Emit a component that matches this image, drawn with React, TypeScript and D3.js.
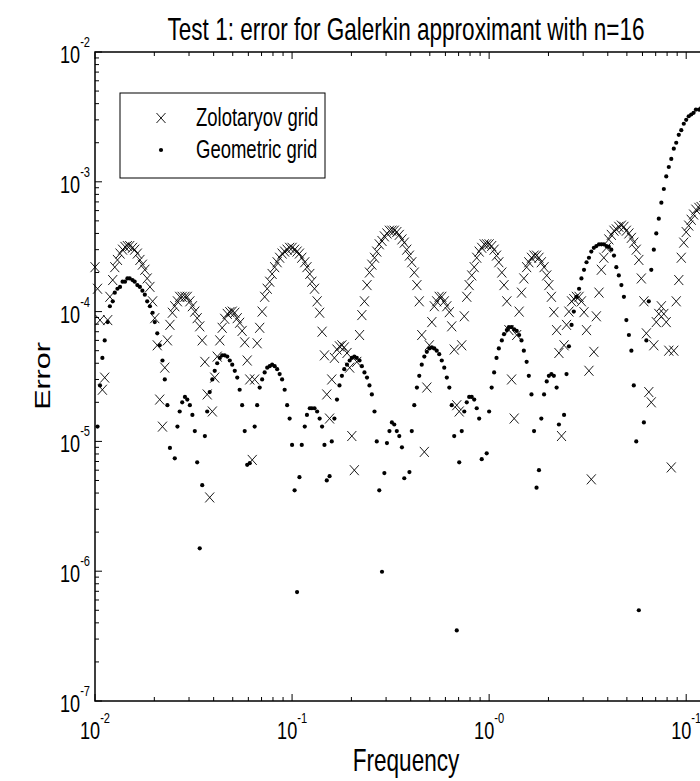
import React, { useEffect, useRef } from 'react';
import * as d3 from 'd3';

const chartTitle = 'Test 1: error for Galerkin approximant with n=16';
const xLabel = 'Frequency';
const yLabel = 'Error';
const seriesNames = ['Zolotaryov grid', 'Geometric grid'];
const xTickExponents = [-2, -1, 0, 1];
const yTickExponents = [-7, -6, -5, -4, -3, -2];

// sampling frequencies (~79 per decade)
const frequency = [
    0.0100, 0.0103, 0.0106, 0.0109, 0.0112, 0.0116, 0.0119, 0.0123, 0.0126, 0.0130,
    0.0134, 0.0138, 0.0142, 0.0146, 0.0150, 0.0155, 0.0159, 0.0164, 0.0169, 0.0174,
    0.0179, 0.0184, 0.0190, 0.0196, 0.0201, 0.0207, 0.0213, 0.0220, 0.0226, 0.0233,
    0.0240, 0.0247, 0.0254, 0.0262, 0.0269, 0.0277, 0.0286, 0.0294, 0.0303, 0.0312,
    0.0321, 0.0330, 0.0340, 0.0350, 0.0361, 0.0371, 0.0382, 0.0394, 0.0405, 0.0417,
    0.0430, 0.0442, 0.0455, 0.0469, 0.0483, 0.0497, 0.0512, 0.0527, 0.0542, 0.0558,
    0.0575, 0.0592, 0.0610, 0.0628, 0.0646, 0.0665, 0.0685, 0.0705, 0.0726, 0.0748,
    0.0770, 0.0792, 0.0816, 0.0840, 0.0865, 0.0890, 0.0917, 0.0944, 0.0972,
    0.100, 0.103, 0.106, 0.109, 0.112, 0.116, 0.119, 0.123, 0.126, 0.130,
    0.134, 0.138, 0.142, 0.146, 0.150, 0.155, 0.159, 0.164, 0.169, 0.174,
    0.179, 0.184, 0.190, 0.196, 0.201, 0.207, 0.213, 0.220, 0.226, 0.233,
    0.240, 0.247, 0.254, 0.262, 0.269, 0.277, 0.286, 0.294, 0.303, 0.312,
    0.321, 0.330, 0.340, 0.350, 0.361, 0.371, 0.382, 0.394, 0.405, 0.417,
    0.430, 0.442, 0.455, 0.469, 0.483, 0.497, 0.512, 0.527, 0.542, 0.558,
    0.575, 0.592, 0.610, 0.628, 0.646, 0.665, 0.685, 0.705, 0.726, 0.748,
    0.770, 0.792, 0.816, 0.840, 0.865, 0.890, 0.917, 0.944, 0.972,
    1.00, 1.03, 1.06, 1.09, 1.12, 1.16, 1.19, 1.23, 1.26, 1.30,
    1.34, 1.38, 1.42, 1.46, 1.50, 1.55, 1.59, 1.64, 1.69, 1.74,
    1.79, 1.84, 1.90, 1.96, 2.01, 2.07, 2.13, 2.20, 2.26, 2.33,
    2.40, 2.47, 2.54, 2.62, 2.69, 2.77, 2.86, 2.94, 3.03, 3.12,
    3.21, 3.30, 3.40, 3.50, 3.61, 3.71, 3.82, 3.94, 4.05, 4.17,
    4.30, 4.42, 4.55, 4.69, 4.83, 4.97, 5.12, 5.27, 5.42, 5.58,
    5.75, 5.92, 6.10, 6.28, 6.46, 6.65, 6.85, 7.05, 7.26, 7.48,
    7.70, 7.92, 8.16, 8.40, 8.65, 8.90, 9.17, 9.44, 9.72,
    10.0, 10.3, 10.6, 10.9, 11.2, 11.6, 11.9, 12.3, 12.6, 13.0, 13.4, 13.8
];

const zolotaryovError = [
    2.2e-4, 1.5e-4, 8.6e-5, 2.5e-5, 3.1e-5, 8.6e-5, 1.3e-4, 1.75e-4, 2.2e-4, 2.5e-4,
    2.8e-4, 3.0e-4, 3.15e-4, 3.2e-4, 3.2e-4, 3.1e-4, 3.0e-4, 2.8e-4, 2.5e-4, 2.3e-4,
    2.1e-4, 1.8e-4, 1.55e-4, 1.2e-4, 8.9e-5, 5.5e-5, 2.1e-5, 1.3e-5, 3.7e-5, 6.0e-5,
    7.9e-5, 9.8e-5, 1.1e-4, 1.2e-4, 1.3e-4, 1.3e-4, 1.3e-4, 1.3e-4, 1.2e-4, 1.1e-4,
    1.0e-4, 8.9e-5, 7.7e-5, 6.0e-5, 4.1e-5, 2.3e-5, 3.7e-6, 1.7e-5, 3.1e-5, 4.5e-5,
    6.0e-5, 7.5e-5, 8.8e-5, 9.6e-5, 9.9e-5, 1.0e-4, 9.8e-5, 8.9e-5, 8.2e-5, 7.1e-5,
    5.8e-5, 4.2e-5, 3.0e-5, 7.2e-6, 3.0e-5, 5.7e-5, 7.5e-5, 1.0e-4, 1.3e-4, 1.5e-4,
    1.7e-4, 1.95e-4, 2.2e-4, 2.4e-4, 2.6e-4, 2.8e-4, 2.9e-4, 3.0e-4, 3.1e-4, 3.1e-4,
    3.0e-4, 2.9e-4, 2.8e-4, 2.6e-4, 2.4e-4, 2.2e-4, 1.95e-4, 1.7e-4, 1.5e-4, 1.2e-4,
    9.8e-5, 7.0e-5, 4.6e-5, 2.3e-5, 1.5e-5, 3.0e-5, 4.4e-5, 5.1e-5, 5.4e-5, 5.5e-5,
    5.3e-5, 4.8e-5, 3.7e-5, 1.1e-5, 6.0e-6, 4.1e-5, 6.6e-5, 9.4e-5, 1.2e-4, 1.6e-4,
    2.0e-4, 2.3e-4, 2.6e-4, 2.9e-4, 3.3e-4, 3.5e-4, 3.8e-4, 4.0e-4, 4.2e-4, 4.2e-4,
    4.2e-4, 4.1e-4, 3.9e-4, 3.6e-4, 3.4e-4, 3.0e-4, 2.7e-4, 2.4e-4, 2.0e-4, 1.6e-4,
    1.2e-4, 6.6e-5, 8.3e-6, 2.6e-5, 5.5e-5, 8.3e-5, 1.1e-4, 1.2e-4, 1.3e-4, 1.3e-4,
    1.2e-4, 1.1e-4, 9.9e-5, 7.7e-5, 5.1e-5, 1.9e-5, 1.7e-5, 5.5e-5, 9.2e-5, 1.3e-4,
    1.6e-4, 1.9e-4, 2.2e-4, 2.6e-4, 2.9e-4, 3.1e-4, 3.3e-4, 3.3e-4, 3.3e-4, 3.2e-4,
    3.0e-4, 2.7e-4, 2.4e-4, 2.0e-4, 1.6e-4, 1.2e-4, 7.2e-5, 3.0e-5, 1.5e-5, 6.6e-5,
    1.0e-4, 1.4e-4, 1.8e-4, 2.2e-4, 2.4e-4, 2.6e-4, 2.7e-4, 2.7e-4, 2.6e-4, 2.4e-4,
    2.2e-4, 1.9e-4, 1.6e-4, 1.3e-4, 9.9e-5, 7.2e-5, 4.8e-5, 1.1e-5, 5.5e-5, 7.9e-5,
    1.0e-4, 1.2e-4, 1.25e-4, 1.3e-4, 1.3e-4, 1.2e-4, 9.9e-5, 7.2e-5, 3.5e-5, 5.1e-6,
    4.9e-5, 9.2e-5, 1.4e-4, 2.1e-4, 2.6e-4, 3.1e-4, 3.6e-4, 3.9e-4, 4.2e-4, 4.3e-4,
    4.5e-4, 4.6e-4, 4.5e-4, 4.2e-4, 4.0e-4, 3.7e-4, 3.4e-4, 3.0e-4, 2.5e-4, 1.8e-4,
    1.2e-4, 6.8e-5, 2.4e-5, 2.0e-5, 5.5e-5, 8.3e-5, 9.6e-5, 1.1e-4, 9.6e-5, 8.3e-5,
    5.0e-5, 6.3e-6, 5.0e-5, 1.2e-4, 1.75e-4, 2.6e-4, 3.4e-4, 4.1e-4, 4.6e-4, 5.1e-4,
    5.6e-4, 6.1e-4, 6.3e-4, 6.4e-4, 6.5e-4, 6.5e-4, 6.4e-4, 6.2e-4, 5.9e-4
];

// null = below the bottom of the axes
const geometricError: (number | null)[] = [
    null, 1.3e-5, 2.7e-5, 4.4e-5, 6.0e-5, 8.3e-5, 1.1e-4, 1.2e-4, 1.4e-4, 1.5e-4,
    1.55e-4, 1.7e-4, 1.7e-4, 1.8e-4, 1.8e-4, 1.75e-4, 1.7e-4, 1.6e-4, 1.55e-4, 1.45e-4,
    1.35e-4, 1.2e-4, 1.1e-4, 9.8e-5, 8.3e-5, 6.8e-5, 5.5e-5, 4.2e-5, 3.0e-5, 1.9e-5,
    8.9e-6, null, 7.4e-6, 1.3e-5, 1.7e-5, 2.0e-5, 2.2e-5, 2.1e-5, 1.9e-5, 1.6e-5,
    1.2e-5, 6.9e-6, 1.5e-6, 4.6e-6, 1.1e-5, 1.7e-5, 2.4e-5, 3.0e-5, 3.5e-5, 4.0e-5,
    4.4e-5, 4.6e-5, 4.6e-5, 4.5e-5, 4.2e-5, 3.9e-5, 3.5e-5, 3.1e-5, 2.5e-5, 1.9e-5,
    1.2e-5, 6.6e-6, 6.8e-6, null, 1.3e-5, 1.9e-5, 2.6e-5, 3.0e-5, 3.4e-5, 3.7e-5,
    3.8e-5, 3.9e-5, 3.8e-5, 3.6e-5, 3.3e-5, 3.0e-5, 2.5e-5, 1.9e-5, 1.5e-5, 9.4e-6,
    4.2e-6, 6.9e-7, 5.3e-6, 9.4e-6, 1.3e-5, 1.6e-5, 1.8e-5, 1.8e-5, 1.8e-5, 1.7e-5,
    1.5e-5, 1.3e-5, 9.4e-6, 5.0e-6, 5.4e-6, 1.0e-5, 1.5e-5, 2.1e-5, 2.7e-5, 3.2e-5,
    3.6e-5, 3.9e-5, 4.2e-5, 4.4e-5, 4.5e-5, 4.4e-5, 4.2e-5, 3.8e-5, 3.4e-5, 3.1e-5,
    2.7e-5, 2.3e-5, 1.7e-5, 1.0e-5, 4.2e-6, 9.9e-7, 5.7e-6, 9.7e-6, 1.2e-5, 1.4e-5,
    1.35e-5, 1.2e-5, 1.1e-5, 9.0e-6, 5.2e-6, null, 5.8e-6, 1.2e-5, 1.9e-5, 2.6e-5,
    3.2e-5, 3.9e-5, 4.5e-5, 4.9e-5, 5.2e-5, 5.3e-5, 5.2e-5, 5.0e-5, 4.7e-5, 4.2e-5,
    3.7e-5, 3.1e-5, 2.6e-5, 1.9e-5, 1.1e-5, 3.5e-7, 6.9e-6, 1.2e-5, 1.7e-5, 2.0e-5,
    2.2e-5, 2.2e-5, 2.1e-5, 1.8e-5, 1.5e-5, 7.3e-6, null, 8.1e-6, 1.7e-5, 2.6e-5,
    3.4e-5, 4.4e-5, 5.2e-5, 6.0e-5, 6.7e-5, 7.2e-5, 7.6e-5, 7.6e-5, 7.3e-5, 7.1e-5,
    6.6e-5, 6.0e-5, 5.0e-5, 4.1e-5, 3.2e-5, 2.3e-5, 1.2e-5, 4.4e-6, 6.0e-6, 1.5e-5,
    2.3e-5, 2.9e-5, 3.2e-5, 3.3e-5, 3.2e-5, 2.6e-5, 1.35e-5, null, 1.6e-5, 3.3e-5,
    5.4e-5, 7.9e-5, 1.0e-4, 1.3e-4, 1.5e-4, 1.8e-4, 2.1e-4, 2.4e-4, 2.6e-4, 2.9e-4,
    3.1e-4, 3.2e-4, 3.3e-4, 3.3e-4, 3.3e-4, 3.2e-4, 3.15e-4, 3.0e-4, 2.7e-4, 2.2e-4,
    1.9e-4, 1.6e-4, 1.3e-4, 8.6e-5, 6.6e-5, 5.0e-5, 2.7e-5, 1.0e-5, 5.0e-7, null,
    1.4e-5, 6.0e-5, 1.2e-4, 2.1e-4, 3.0e-4, 4.0e-4, 5.2e-4, 6.9e-4, 8.8e-4, 1.1e-3,
    1.3e-3, 1.5e-3, 1.8e-3, 2.0e-3, 2.3e-3, 2.5e-3, 2.8e-3, 3.0e-3, 3.2e-3, 3.3e-3,
    3.4e-3, 3.6e-3, 3.6e-3, 3.7e-3, 3.7e-3, 3.7e-3, 3.6e-3, 3.6e-3, 3.4e-3
];

const FONT = 'Liberation Sans, Arial, Helvetica, sans-serif';
const SQUEEZE = 0.74;

function App() {
    const ref = useRef<SVGSVGElement>(null);

    useEffect(() => {
        drawChart();
    });

    function drawChart() {
        const width = 700;
        const height = 781;
        const plot = { left: 95, right: 715, top: 52, bottom: 701 };

        const svg = d3.select(ref.current);
        svg.selectAll('*').remove();

        svg.append('rect')
            .attr('width', width)
            .attr('height', height)
            .attr('fill', '#ffffff');

        const x = d3.scaleLog().domain([0.01, 14]).range([plot.left, plot.right]);
        const y = d3.scaleLog().domain([1e-7, 1e-2]).range([plot.bottom, plot.top]);

        const isMajor = (t: number) => Math.abs(Math.log10(t) - Math.round(Math.log10(t))) < 1e-6;

        // ticks, inside the box on every side
        const axes = svg.append('g').attr('stroke', '#000').attr('stroke-width', 1);
        x.ticks().forEach(t => {
            const len = isMajor(t) ? 7 : 4;
            const px = x(t);
            axes.append('line').attr('x1', px).attr('x2', px).attr('y1', plot.bottom).attr('y2', plot.bottom - len);
            axes.append('line').attr('x1', px).attr('x2', px).attr('y1', plot.top).attr('y2', plot.top + len);
        });
        y.ticks().forEach(t => {
            const len = isMajor(t) ? 7 : 4;
            const py = y(t);
            axes.append('line').attr('x1', plot.left).attr('x2', plot.left + len).attr('y1', py).attr('y2', py);
            axes.append('line').attr('x1', plot.right).attr('x2', plot.right - len).attr('y1', py).attr('y2', py);
        });

        svg.append('rect')
            .attr('x', plot.left)
            .attr('y', plot.top)
            .attr('width', plot.right - plot.left)
            .attr('height', plot.bottom - plot.top)
            .attr('fill', 'none')
            .attr('stroke', '#000')
            .attr('stroke-width', 1.5);

        // tick labels as 10^k
        const powerLabel = (px: number, py: number, k: number, anchor: string) => {
            const t = svg.append('text')
                .attr('transform', `translate(${px},${py}) scale(${SQUEEZE},1)`)
                .attr('text-anchor', anchor)
                .attr('font-family', FONT)
                .attr('font-size', 24.5)
                .attr('fill', '#000');
            t.append('tspan').text('10');
            t.append('tspan').attr('dy', -16).attr('font-size', 15).text(`-${Math.abs(k)}`);
        };
        xTickExponents.forEach(k => powerLabel(x(Math.pow(10, k)), 739, k, 'middle'));
        yTickExponents.forEach(k => powerLabel(plot.left - 5, y(Math.pow(10, k)) + 11, k, 'end'));

        // data
        const zPoints = frequency.map((f, i) => ({ f, e: zolotaryovError[i] }))
            .filter(d => d.e != null && d.e >= 1e-7 && d.f <= 14);
        const gPoints = frequency.map((f, i) => ({ f, e: geometricError[i] }))
            .filter(d => d.e != null && (d.e as number) >= 1e-7 && d.f <= 14);

        svg.append('g')
            .selectAll('path')
            .data(zPoints)
            .enter()
            .append('path')
            .attr('d', 'M-4.5,-5L4.5,5M-4.5,5L4.5,-5')
            .attr('transform', d => `translate(${x(d.f)},${y(d.e as number)})`)
            .attr('stroke', '#000')
            .attr('stroke-width', 0.9)
            .attr('fill', 'none');

        svg.append('g')
            .selectAll('circle')
            .data(gPoints)
            .enter()
            .append('circle')
            .attr('cx', d => x(d.f))
            .attr('cy', d => y(d.e as number))
            .attr('r', 2.1)
            .attr('fill', '#000');

        // titles
        const bigText = (px: number, py: number, str: string, rotate = false) => {
            svg.append('text')
                .attr('transform', `translate(${px},${py}) scale(${SQUEEZE},1)${rotate ? ' rotate(-90)' : ''}`)
                .attr('text-anchor', 'middle')
                .attr('font-family', FONT)
                .attr('font-size', 30.5)
                .attr('fill', '#000')
                .text(str);
        };
        bigText(406, 40, chartTitle);
        bigText(406, 771, xLabel);
        bigText(50, 376, yLabel, true);

        // legend
        const legend = svg.append('g');
        legend.append('rect')
            .attr('x', 120).attr('y', 93)
            .attr('width', 205).attr('height', 85)
            .attr('fill', '#ffffff')
            .attr('stroke', '#000')
            .attr('stroke-width', 1);
        legend.append('path')
            .attr('d', 'M-4.5,-5L4.5,5M-4.5,5L4.5,-5')
            .attr('transform', 'translate(161,118)')
            .attr('stroke', '#000')
            .attr('stroke-width', 0.9);
        legend.append('circle').attr('cx', 161).attr('cy', 150).attr('r', 2.1).attr('fill', '#000');
        seriesNames.forEach((name, i) => {
            legend.append('text')
                .attr('transform', `translate(196,${126 + i * 32}) scale(${SQUEEZE},1)`)
                .attr('font-family', FONT)
                .attr('font-size', 25)
                .attr('fill', '#000')
                .text(name);
        });
    }

    return (
        <svg
            ref={ref}
            width={700}
            height={781}
            style={{ position: 'absolute', left: 0, top: 0, display: 'block' }}
        />
    );
}

export default App;
